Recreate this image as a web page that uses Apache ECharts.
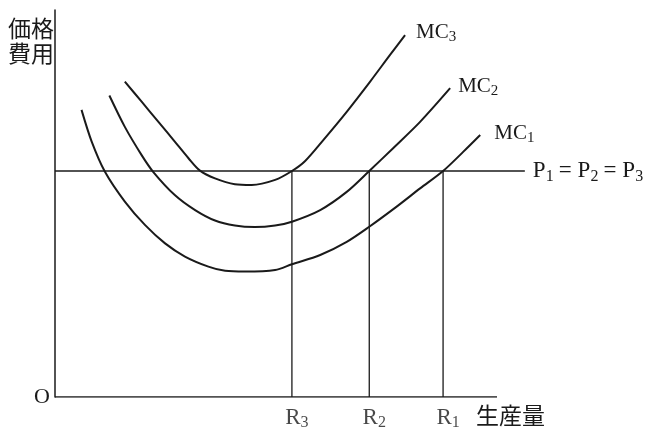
<!DOCTYPE html>
<html>
<head>
<meta charset="utf-8">
<script src="https://cdn.jsdelivr.net/npm/echarts@6/dist/echarts.min.js"></script>
<style>
  html, body { margin: 0; padding: 0; background: #fff; }
  #chart { width: 648px; height: 427px; }
</style>
</head>
<body>
<div id="chart"></div>
<script>
// 数据 (x: 生産量 0-100, y: 価格/費用 0-100)
var mc1 = [[6.0, 74.2], [8.3, 66.0], [11.3, 58.2], [15.8, 50.5], [20.4, 44.4], [24.9, 39.7], [29.4, 36.3],
  [34.7, 33.7], [38.5, 32.6], [43.0, 32.4], [49.8, 32.8], [53.6, 34.3], [60.0, 36.7], [66.0, 40.1],
  [71.1, 44.0], [77.3, 49.2], [82.6, 53.9], [87.8, 58.4], [92.4, 63.4], [96.2, 67.7]];
var mc2 = [[12.3, 77.9], [15.8, 69.8], [19.6, 62.5], [22.2, 58.2], [27.1, 52.2], [31.7, 48.3], [36.2, 45.6],
  [40.7, 44.3], [45.2, 43.9], [49.8, 44.3], [53.6, 45.3], [60.0, 48.3], [66.0, 53.0], [71.1, 58.4],
  [76.5, 64.3], [82.6, 71.1], [89.4, 79.8]];
var mc3 = [[15.8, 81.5], [19.6, 76.3], [23.4, 71.1], [27.1, 66.0], [30.2, 61.7], [32.8, 58.5], [36.2, 56.5],
  [40.7, 55.0], [44.5, 54.8], [49.8, 56.1], [53.6, 58.4], [56.6, 61.0], [60.7, 66.4], [66.0, 73.7],
  [71.3, 81.5], [75.8, 88.4], [79.2, 93.5]];
var price = 58.4;
var priceLineEnd = 106.3;
var rValues = [53.6, 71.1, 87.8];
var rNames = ['3', '2', '1'];
var axisMaxX = 100;

var SERIF = '"Liberation Serif", "DejaVu Serif", serif';
var CJK = '"Noto Sans CJK JP", sans-serif';
var INK = '#1a1a1a';

// 下付き文字
function subRich(size, sub) {
    return {
        m: { fontFamily: SERIF, fontSize: size, color: INK, lineHeight: size + 4 },
        e: { fontFamily: SERIF, fontSize: size, color: INK, lineHeight: size + 4, padding: [0, 6, 0, 5] },
        s: { fontFamily: SERIF, fontSize: sub, color: INK, verticalAlign: 'bottom', lineHeight: sub }
    };
}

function curve(name, data, labelOffset) {
    return {
        type: 'line', name: name, data: data, smooth: 0.3, showSymbol: false, silent: true,
        lineStyle: { color: INK, width: 2 },
        endLabel: {
            show: true, offset: labelOffset,
            formatter: '{m|MC}{s|' + name.slice(2) + '}', rich: subRich(21, 15)
        }
    };
}

var series = [];
// 横軸
series.push({ type: 'line', data: [[0, 0], [axisMaxX, 0]], showSymbol: false, silent: true,
    lineStyle: { color: INK, width: 1.5 } });
// 価格線
series.push({ type: 'line', data: [[0, price], [priceLineEnd, price]], showSymbol: false, silent: true,
    lineStyle: { color: INK, width: 1.3 },
    endLabel: { show: true, offset: [0, 0],
        formatter: '{m|P}{s|1}{e|=}{m|P}{s|2}{e|=}{m|P}{s|3}', rich: subRich(23, 16) } });
// 垂直線
for (var i = 0; i < rValues.length; i++) {
    series.push({ type: 'line', data: [[rValues[i], 0], [rValues[i], price]], showSymbol: false, silent: true,
        lineStyle: { color: INK, width: 1.3 } });
}
series.push(curve('MC1', mc1, [6, -2]));
series.push(curve('MC2', mc2, [0, -2]));
series.push(curve('MC3', mc3, [3, -3]));
// R ラベル
series.push({
    type: 'scatter', symbolSize: 0, silent: true,
    data: rValues.map(function (v, k) { return { value: [v, 0], name: rNames[k] }; }),
    label: { show: true, position: 'bottom', distance: 7, offset: [5, 0],
        formatter: function (p) { return '{m|R}{s|' + p.name + '}'; }, rich: subRich(23, 16) }
});

var chart = echarts.init(document.getElementById('chart'), null, { renderer: 'canvas' });
chart.setOption({
    animation: false,
    backgroundColor: '#fff',
    grid: { left: 55, right: 106.8, top: 10, bottom: 30 },
    xAxis: { type: 'value', min: 0, max: 110, axisLine: { show: false }, axisTick: { show: false },
        axisLabel: { show: false }, splitLine: { show: false } },
    yAxis: { type: 'value', min: 0, max: 100,
        axisLine: { show: true, lineStyle: { color: INK, width: 1.5 } },
        axisTick: { show: false }, axisLabel: { show: false }, splitLine: { show: false } },
    graphic: [
        { type: 'text', right: 594, top: 16, style: { text: '価格\n費用', font: '23px ' + CJK,
            lineHeight: 25, fill: INK, textAlign: 'right' } },
        { type: 'text', left: 34, top: 386, style: { text: 'O', font: '22px ' + SERIF, fill: INK } },
        { type: 'text', left: 476, top: 404, style: { text: '生産量', font: '23px ' + CJK, fill: INK } }
    ],
    series: series
});
</script>
</body>
</html>
